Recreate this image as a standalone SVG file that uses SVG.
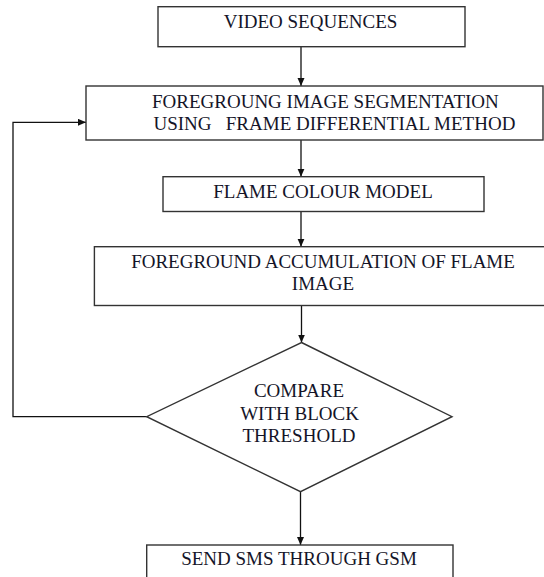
<svg xmlns="http://www.w3.org/2000/svg" width="544" height="577" viewBox="0 0 544 577">
<style>
.box{fill:#fff;stroke:#333;stroke-width:1.4}
.t{font-family:"Liberation Serif","Times New Roman",serif;font-size:19px;fill:#141428}
.m{text-anchor:middle}
.c{fill:none;stroke:#111;stroke-width:1.3}
</style>
<defs>
<marker id="ah" markerUnits="userSpaceOnUse" markerWidth="9" markerHeight="8" refX="8" refY="3.5" orient="auto">
<path d="M0,0 L8,3.5 L0,7 z" fill="#111"/>
</marker>
</defs>
<rect width="544" height="577" fill="#fff"/>
<g id="connectors">
<line class="c" x1="301" y1="46.7" x2="301" y2="86" marker-end="url(#ah)"/>
<line class="c" x1="301" y1="140" x2="301" y2="176.7" marker-end="url(#ah)"/>
<line class="c" x1="301" y1="211.5" x2="301" y2="246.7" marker-end="url(#ah)"/>
<line class="c" x1="301.5" y1="305.5" x2="301.5" y2="342.5" marker-end="url(#ah)"/>
<line class="c" x1="300.5" y1="491.7" x2="300.5" y2="545" marker-end="url(#ah)"/>
<polyline class="c" points="146.7,416.7 13,416.7 13,122.3 86,122.3" marker-end="url(#ah)"/>
</g>
<g id="video-sequences">
<rect class="box" x="158" y="6.7" width="307" height="40"/>
<text class="t m" x="310.5" y="28.3">VIDEO SEQUENCES</text>
</g>
<g id="foreground-segmentation">
<rect class="box" x="86" y="86" width="457" height="54"/>
<text class="t" x="152" y="108.3">FOREGROUNG IMAGE SEGMENTATION</text>
<text class="t" x="153.5" y="129.5" xml:space="preserve">USING   FRAME DIFFERENTIAL METHOD</text>
</g>
<g id="flame-colour-model">
<rect class="box" x="163" y="176.7" width="321" height="34.8"/>
<text class="t m" x="323" y="198">FLAME COLOUR MODEL</text>
</g>
<g id="foreground-accumulation">
<rect class="box" x="94.4" y="246.7" width="470" height="58.8"/>
<text class="t m" x="323" y="268.3">FOREGROUND ACCUMULATION OF FLAME</text>
<text class="t m" x="323" y="290">IMAGE</text>
</g>
<g id="compare-threshold">
<polygon class="box" points="301.5,342.5 452,416.7 300.5,491.7 146.7,416.7"/>
<text class="t m" x="299" y="396.7">COMPARE</text>
<text class="t m" x="299.5" y="420">WITH BLOCK</text>
<text class="t m" x="299" y="441.7">THRESHOLD</text>
</g>
<g id="send-sms">
<rect class="box" x="146.7" y="545" width="306.3" height="50"/>
<text class="t m" x="299" y="565">SEND SMS THROUGH GSM</text>
</g>
</svg>
